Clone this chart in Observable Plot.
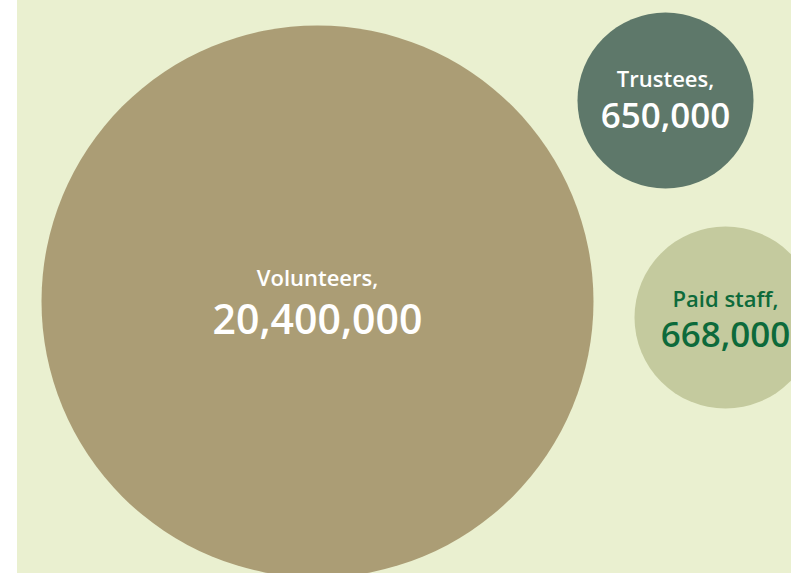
<!DOCTYPE html>
<html>
<head>
<meta charset="utf-8">
<script src="https://cdn.jsdelivr.net/npm/d3@7"></script>
<script src="https://cdn.jsdelivr.net/npm/@observablehq/plot@0.6"></script>
<style>
  html, body { margin: 0; padding: 0; }
  body { width: 791px; height: 573px; overflow: hidden;
         background: linear-gradient(to right, #ffffff 17px, #eaf0d0 17px); }
  #chart svg { display: block; background: transparent; }
</style>
</head>
<body>
<div id="chart"></div>
<script>
// Data
const categories = ["Volunteers", "Trustees", "Paid staff"];
const values = [20400000, 650000, 668000];

// Layout (illustrative bubble placement, in pixels)
const centerX = [317, 665, 725];
const centerY = [301, 100, 317];
const bubbleRadius = [276, 88, 91];

// Styles
const fills = ["#ab9d75", "#5e786a", "#c4ca9e"];
const textColors = ["#ffffff", "#ffffff", "#0d6a3b"];
const nameSizes = [22, 22, 22];
const valueSizes = [41, 35, 35];
const nameShift = [-23, -21, -18];
const valueShift = [19, 16, 18];

const fmt = d3.format(",");
const rows = categories.map((c, i) => ({
  name: c + ",",
  value: fmt(values[i]),
  cx: centerX[i], cy: centerY[i], r: bubbleRadius[i],
  fill: fills[i], tc: textColors[i]
}));

const labelMarks = rows.flatMap((row, i) => [
  Plot.text([row], { x: "cx", y: "cy", text: "name", fill: "tc",
                     fontSize: nameSizes[i], fontWeight: 600, dy: nameShift[i] }),
  Plot.text([row], { x: "cx", y: "cy", text: "value", fill: "tc",
                     fontSize: valueSizes[i], fontWeight: 600, dy: valueShift[i] })
]);

const chart = Plot.plot({
  width: 791,
  height: 573,
  margin: 0,
  style: { background: "transparent", fontFamily: "'Open Sans', sans-serif" },
  x: { domain: [0, 791], range: [0, 791], axis: null },
  y: { domain: [0, 573], range: [0, 573], axis: null },
  r: { type: "linear", domain: [0, 300], range: [0, 300] },
  color: { type: "identity" },
  marks: [
    Plot.dot(rows, { x: "cx", y: "cy", r: "r", fill: "fill", stroke: null }),
    ...labelMarks
  ]
});
document.getElementById("chart").appendChild(chart);
</script>
</body>
</html>
